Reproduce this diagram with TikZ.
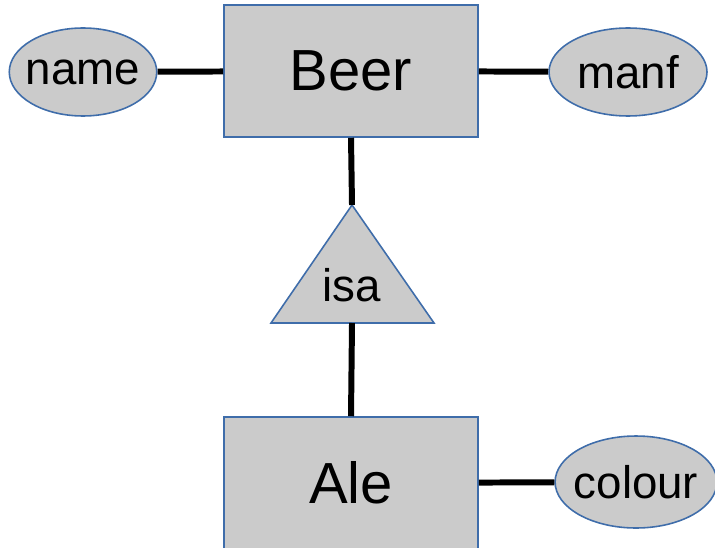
\documentclass[tikz,border=0pt]{standalone}
\usepackage{fontspec}
\setmainfont{Liberation Sans}
\usetikzlibrary{shapes.geometric}

\definecolor{ergray}{HTML}{CBCBCB}
\definecolor{erblue}{HTML}{3F6DAA}

\tikzset{
  entity/.style={draw=erblue, fill=ergray, line width=0.9pt, minimum width=5.08cm, minimum height=2.64cm, font=\fontsize{33}{33}\selectfont},
  attrib/.style={ellipse, draw=erblue, fill=ergray, line width=0.9pt, inner xsep=-0.1cm, inner ysep=0pt, font=\fontsize{26}{26}\selectfont},
  link/.style={line width=3.4pt}
}

\begin{document}
\begin{tikzpicture}[x=0.02cm, y=-0.02cm]

      \useasboundingbox (0,0) rectangle (715,547);

      % Entities
      \node[entity] (beer) at (351,71) {Beer};
      \node[entity] (ale) at (351,483) {Ale};

      % Attributes
      \node[attrib, minimum width=2.92cm, minimum height=1.76cm] (name) at (83,72) {name};
      \node[attrib, minimum width=3.16cm, minimum height=1.76cm] (manf) at (628,72) {manf};
      \node[attrib, minimum width=3.2cm, minimum height=1.84cm] (colour) at (636,482) {colour};

      % isa triangle
      \coordinate (isatop) at (352,205);
      \coordinate (isabot) at (352,323);
      \draw[draw=erblue, fill=ergray, line width=0.9pt] (isatop) -- (434,323) -- (271,323) -- cycle;
      \node[font=\fontsize{26}{26}\selectfont] (isa) at (352,285) {isa};

      % Links
      \draw[link] (name) -- (beer);
      \draw[link] (beer) -- (manf);
      \draw[link] (beer.south) -- (isatop);
      \draw[link] (isabot) -- (ale.north);
      \draw[link] (ale) -- (colour);
    \end{tikzpicture}
\end{document}
